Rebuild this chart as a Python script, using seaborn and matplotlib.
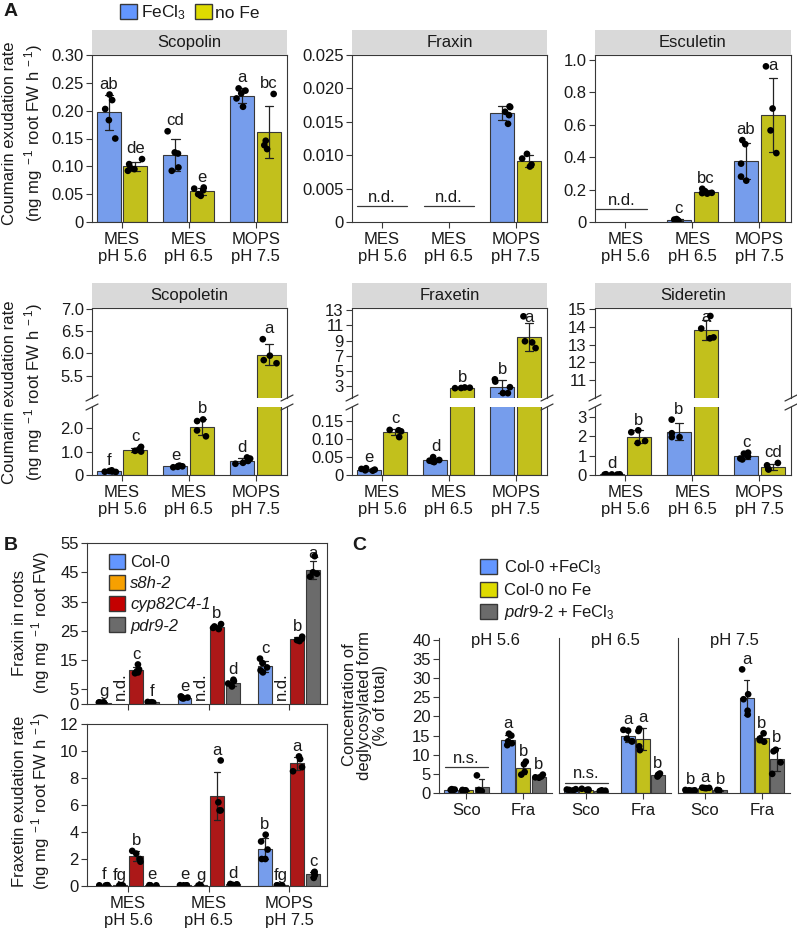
import numpy as np
import pandas as pd
import matplotlib
matplotlib.use("Agg")
import matplotlib.pyplot as plt
from matplotlib.patches import Patch
from matplotlib.lines import Line2D
import seaborn as sns

# ---------------- data ----------------
buffers = ["MES\npH 5.6", "MES\npH 6.5", "MOPS\npH 7.5"]
fe_levels = ["FeCl3", "no Fe"]

# panel A: replicate points per buffer
scopolin_fe = [[0.229, 0.219, 0.203, 0.183, 0.150], [0.163, 0.125, 0.123, 0.092, 0.098], [0.240, 0.236, 0.231, 0.222, 0.207]]
scopolin_nofe = [[0.113, 0.104, 0.097, 0.092, 0.095], [0.062, 0.060, 0.057, 0.050, 0.047], [0.230, 0.146, 0.138, 0.131]]
scopolin_letters = [["ab", "cd", "a"], ["de", "e", "bc"]]

fraxin_fe = [[], [], [0.0173, 0.0172, 0.0165, 0.0160, 0.0147]]
fraxin_nofe = [[], [], [0.0102, 0.0095, 0.0086, 0.0083]]
fraxin_letters = [["", "", ""], ["", "", ""]]

esculetin_fe = [[], [0.018, 0.015, 0.012, 0.008, 0.006], [0.505, 0.48, 0.36, 0.28, 0.255]]
esculetin_nofe = [[], [0.205, 0.19, 0.18, 0.175, 0.178], [0.96, 0.70, 0.565, 0.425]]
esculetin_letters = [["", "c", "ab"], ["", "bc", "a"]]

scopoletin_fe = [[0.20, 0.17, 0.15, 0.14, 0.13], [0.40, 0.38, 0.37, 0.35, 0.33], [0.75, 0.70, 0.60, 0.52, 0.48]]
scopoletin_nofe = [[1.20, 1.10, 1.03, 1.00], [2.37, 2.30, 1.90, 1.65], [6.32, 5.95, 5.85, 5.78]]
scopoletin_letters = [["f", "e", "d"], ["c", "b", "a"]]

fraxetin_fe = [[0.019, 0.017, 0.015, 0.013, 0.012], [0.050, 0.042, 0.040, 0.038, 0.036], [3.87, 3.57, 2.83, 2.05, 2.04]]
fraxetin_nofe = [[0.126, 0.125, 0.122, 0.106], [2.80, 2.76, 2.72, 2.70], [12.2, 8.9, 8.75, 8.0]]
fraxetin_letters = [["e", "d", "b"], ["c", "b", "a"]]

sideretin_fe = [[0.04, 0.035, 0.03, 0.025, 0.02], [2.85, 2.15, 1.95, 1.95], [1.15, 1.10, 0.95, 0.85, 0.80]]
sideretin_nofe = [[2.30, 2.20, 1.75, 1.65], [14.6, 13.9, 13.4, 13.35], [0.62, 0.50, 0.32, 0.28]]
sideretin_letters = [["d", "b", "c"], ["b", "a", "cd"]]

# panel B
genotypes = ["Col-0", "s8h-2", "cyp82C4-1", "pdr9-2"]
root_col = [[0.6, 0.5, 0.5, 0.4, 0.45], [2.6, 2.4, 2.2, 2.0, 1.9], [15.5, 14.0, 12.5, 11.5, 10.8]]
root_s8h = [[], [], []]
root_cyp = [[13.5, 11.8, 11.2, 10.8, 10.5], [27.3, 26.5, 26.0, 25.6], [23.0, 22.3, 21.8, 21.5]]
root_pdr = [[0.7, 0.6, 0.5, 0.5], [8.3, 7.8, 7.0, 6.0], [50.5, 45.0, 44.5, 43.5]]
root_letters = [["g", "e", "c"], ["", "", ""], ["c", "b", "b"], ["f", "d", "a"]]

exud_col = [[0.06, 0.05, 0.05, 0.04], [0.06, 0.05, 0.05, 0.04], [3.8, 3.3, 2.7, 2.0, 2.0]]
exud_s8h = [[0.05, 0.05, 0.04, 0.04], [0.05, 0.05, 0.04, 0.04], [0.05, 0.05, 0.04, 0.04]]
exud_cyp = [[2.6, 2.4, 2.0, 1.8], [9.3, 6.2, 5.6, 5.6], [9.6, 9.4, 8.8, 8.5]]
exud_pdr = [[0.06, 0.05, 0.05, 0.04], [0.15, 0.12, 0.10, 0.08], [1.05, 1.0, 0.8, 0.6]]
exud_letters = [["f", "e", "b"], ["fg", "g", "fg"], ["b", "a", "a"], ["e", "d", "c"]]

# panel C
compounds = ["Sco", "Fra"]
ph_titles = ["pH 5.6", "pH 6.5", "pH 7.5"]
lines_c = ["Col-0 +FeCl3", "Col-0 no Fe", "pdr9-2 + FeCl3"]
deg_col_fe = [[[1.0, 0.9, 0.8, 0.7, 0.8], [15.5, 15.0, 13.5, 13.0, 12.5]],
              [[1.0, 0.9, 0.8, 0.7], [16.5, 16.3, 14.2, 13.5, 13.5]],
              [[0.8, 0.7, 0.7, 0.6, 0.6], [32.3, 25.8, 24.5, 21.5, 20.5]]]
deg_col_nofe = [[[0.8, 0.7, 0.7, 0.6], [8.2, 7.5, 5.5, 4.8]],
                [[1.1, 0.9, 0.8, 0.7], [16.8, 16.2, 12.2, 11.2]],
                [[1.4, 1.35, 1.3, 1.25], [15.6, 14.2, 13.8, 13.4]]]
deg_pdr_fe = [[[4.6, 0.8, 0.6, 0.5], [4.8, 4.3, 4.1, 4.0]],
              [[0.7, 0.6, 0.5, 0.5], [5.1, 4.8, 4.6, 4.3]],
              [[0.8, 0.7, 0.7, 0.6], [11.3, 10.9, 8.0, 5.0]]]
deg_letters = [[["", "a"], ["", "b"], ["", "b"]],
               [["", "a"], ["", "a"], ["", "b"]],
               [["b", "a"], ["a", "b"], ["b", "b"]]]

# ---------------- style ----------------
BLUE, YELLOW, ORANGE, RED, GRAY = "#6396FF", "#DEDB00", "#F7A000", "#C40000", "#6B6B6B"
EDGE = "#383838"
TXT = "#1a1a1a"
FS = 12

sns.set_style("ticks")
plt.rcParams["font.family"] = ["Liberation Sans", "DejaVu Sans"]
plt.rcParams["mathtext.fontset"] = "custom"
plt.rcParams["mathtext.rm"] = "Liberation Sans"
plt.rcParams["mathtext.it"] = "Liberation Sans:italic"
plt.rcParams["mathtext.bf"] = "Liberation Sans:bold"
plt.rcParams["axes.edgecolor"] = EDGE
plt.rcParams["axes.linewidth"] = 0.8
plt.rcParams["text.color"] = TXT

W, H = 797, 933
fig = plt.figure(figsize=(W / 100, H / 100), dpi=100)
np.random.seed(3)


def rect(x0, y0, x1, y1):
    return [x0 / W, 1 - y1 / H, (x1 - x0) / W, (y1 - y0) / H]


def long_df(groups, hues, series):
    rows = []
    for h, per_group in zip(hues, series):
        for g, pts in zip(groups, per_group):
            for v in pts:
                rows.append((g, h, v))
    return pd.DataFrame(rows, columns=["group", "hue", "value"])


def draw_bars(ax, df, groups, hues, colors, gap, capsize):
    sns.barplot(data=df, x="group", y="value", hue="hue", order=groups, hue_order=hues,
                palette=colors, errorbar="sd", capsize=capsize, gap=gap, width=0.8,
                edgecolor=EDGE, linewidth=0.8, err_kws={"color": "#222222", "linewidth": 0.9},
                legend=False, ax=ax)
    sns.stripplot(data=df, x="group", y="value", hue="hue", order=groups, hue_order=hues,
                  palette={h: "black" for h in hues}, dodge=True, jitter=0.25, size=4.8,
                  legend=False, zorder=4, ax=ax)
    ax.set_xlabel("")
    ax.set_ylabel("")


def style_ax(ax, yticks, ylabels, ylim, xlim):
    ax.set_ylim(*ylim)
    ax.set_xlim(*xlim)
    ax.set_yticks(yticks)
    ax.set_yticklabels(ylabels)
    ax.tick_params(axis="both", length=4, width=0.8, color=EDGE, labelsize=FS, pad=2, labelcolor=TXT)
    ax.tick_params(axis="x", pad=3)


def add_letters(axs, df, groups, hues, letters, clamp=True):
    stats = df.groupby(["group", "hue"])["value"].agg(["mean", "std", "max"])
    n = len(hues)
    for hi, h in enumerate(hues):
        for gi, g in enumerate(groups):
            lab = letters[hi][gi]
            if not lab:
                continue
            m, s, mx = stats.loc[(g, h)]
            top = max(m + (0 if np.isnan(s) else s), mx)
            x = gi - 0.4 + 0.8 / n * (hi + 0.5)
            ax = axs[0]
            if len(axs) > 1 and top > axs[0].get_ylim()[1]:
                ax = axs[1]
            off = 2.0
            if clamp and ax is axs[-1]:
                ytop = ax.transAxes.transform((0, 1))[1]
                ybar = ax.transData.transform((x, top))[1]
                room = (ytop - ybar) * 72 / fig.dpi
                if off + 1.05 * FS > room:
                    off = room - 1.05 * FS
            ax.annotate(lab, (x, top), xytext=(0, off), textcoords="offset points",
                        ha="center", va="bottom", fontsize=FS, annotation_clip=False)


def strip(ax, title):
    p = ax.get_position()
    s = fig.add_axes([p.x0, p.y1, p.width, 25 / H])
    s.set_facecolor("#D9D9D9")
    s.set_xticks([])
    s.set_yticks([])
    for sp in s.spines.values():
        sp.set_visible(False)
    s.text(0.5, 0.5, title, ha="center", va="center", fontsize=FS, transform=s.transAxes)


def break_marks(ax_up, ax_lo):
    pu = ax_up.get_position()
    pl = ax_lo.get_position()
    for x in (pu.x0, pu.x1):
        for y in (pu.y0, pl.y1):
            fig.add_artist(Line2D([x - 6 / W, x + 6 / W], [y - 3 / H, y + 3 / H],
                                  transform=fig.transFigure, color=EDGE, lw=0.9))


def nd_line(ax, x, y, txt, half=0.37):
    ax.plot([x - half, x + half], [y, y], color=EDGE, lw=0.9)
    ax.annotate(txt, (x, y), xytext=(0, 1), textcoords="offset points",
                ha="center", va="bottom", fontsize=FS)


# ---------------- panel A top row ----------------
xlim_a = (-0.45, 2.47)
a_top = [
    ("Scopolin", 92, 287, scopolin_fe, scopolin_nofe, scopolin_letters, (0, 0.30),
     [0, 0.05, 0.10, 0.15, 0.20, 0.25, 0.30], ["0", "0.05", "0.10", "0.15", "0.20", "0.25", "0.30"]),
    ("Fraxin", 352, 547, fraxin_fe, fraxin_nofe, fraxin_letters, (0, 0.025),
     [0, 0.005, 0.010, 0.015, 0.020, 0.025], ["0", "0.005", "0.010", "0.015", "0.020", "0.025"]),
    ("Esculetin", 595, 791, esculetin_fe, esculetin_nofe, esculetin_letters, (0, 1.03),
     [0, 0.2, 0.4, 0.6, 0.8, 1.0], ["0", "0.2", "0.4", "0.6", "0.8", "1.0"]),
]
top_axes = {}
for name, x0, x1, fe, nofe, lets, ylim, yt, yl in a_top:
    ax = fig.add_axes(rect(x0, 55, x1, 222))
    df = long_df(buffers, fe_levels, [fe, nofe])
    draw_bars(ax, df, buffers, fe_levels, [BLUE, YELLOW], gap=0.1, capsize=0.25)
    style_ax(ax, yt, yl, ylim, xlim_a)
    add_letters([ax], df, buffers, fe_levels, lets)
    strip(ax, name)
    top_axes[name] = ax

nd_line(top_axes["Fraxin"], 0, 0.0024, "n.d.")
nd_line(top_axes["Fraxin"], 1, 0.0024, "n.d.")
nd_line(top_axes["Esculetin"], -0.05, 0.08, "n.d.", half=0.38)

# ---------------- panel A bottom row (broken axes) ----------------
a_bot = [
    ("Scopoletin", 92, 287, scopoletin_fe, scopoletin_nofe, scopoletin_letters,
     (0, 2.9), [0, 1.0, 2.0], ["0", "1.0", "2.0"],
     (5.0, 7.02), [5.5, 6.0, 6.5, 7.0], ["5.5", "6.0", "6.5", "7.0"]),
    ("Fraxetin", 352, 547, fraxetin_fe, fraxetin_nofe, fraxetin_letters,
     (0, 0.19), [0, 0.05, 0.10, 0.15], ["0", "0.05", "0.10", "0.15"],
     (1.4, 13.3), [3, 5, 7, 9, 11, 13], ["3", "5", "7", "9", "11", "13"]),
    ("Sideretin", 595, 791, sideretin_fe, sideretin_nofe, sideretin_letters,
     (0, 3.5), [0, 1, 2, 3], ["0", "1", "2", "3"],
     (10, 15.05), [11, 12, 13, 14, 15], ["11", "12", "13", "14", "15"]),
]
for name, x0, x1, fe, nofe, lets, ylo, ytlo, yllo, yhi, ythi, ylhi in a_bot:
    ax_up = fig.add_axes(rect(x0, 308, x1, 398))
    ax_lo = fig.add_axes(rect(x0, 407, x1, 475))
    df = long_df(buffers, fe_levels, [fe, nofe])
    for ax in (ax_up, ax_lo):
        draw_bars(ax, df, buffers, fe_levels, [BLUE, YELLOW], gap=0.1, capsize=0.25)
    style_ax(ax_lo, ytlo, yllo, ylo, xlim_a)
    style_ax(ax_up, ythi, ylhi, yhi, xlim_a)
    ax_up.spines["bottom"].set_visible(False)
    ax_up.tick_params(axis="x", bottom=False, labelbottom=False)
    ax_lo.spines["top"].set_visible(False)
    add_letters([ax_lo, ax_up], df, buffers, fe_levels, lets)
    break_marks(ax_up, ax_lo)
    strip(ax_up, name)

# y labels panel A
ylab2 = "(ng mg$^{\\ -1}$ root FW h$^{\\ -1}$)"
for yc in (133, 392):
    fig.text(10 / W, 1 - yc / H, "Coumarin exudation rate", rotation=90, ha="center", va="center", fontsize=FS)
    fig.text(34 / W, 1 - yc / H, ylab2, rotation=90, ha="center", va="center", fontsize=FS)

fig.legend(handles=[Patch(facecolor=BLUE, edgecolor=EDGE, label="FeCl$_3$"),
                    Patch(facecolor=YELLOW, edgecolor=EDGE, label="no Fe")],
           loc="center", bbox_to_anchor=(190 / W, 1 - 13 / H), ncol=2, frameon=False,
           handlelength=1.0, handleheight=0.9, columnspacing=0.5, handletextpad=0.2,
           fontsize=FS + 0.5, borderpad=0)

# ---------------- panel B ----------------
xlim_b = (-0.51, 2.47)
gcolors = [BLUE, ORANGE, RED, GRAY]
ax_b1 = fig.add_axes(rect(87, 543, 327, 704))
df_b1 = long_df(buffers, genotypes, [root_col, root_s8h, root_cyp, root_pdr])
draw_bars(ax_b1, df_b1, buffers, genotypes, gcolors, gap=0.15, capsize=0.3)
style_ax(ax_b1, [0, 5, 15, 25, 35, 45, 55], ["0", "5", "15", "25", "35", "45", "55"], (0, 55), xlim_b)
ax_b1.tick_params(axis="x", labelbottom=False)
add_letters([ax_b1], df_b1, buffers, genotypes, root_letters)
for gi in range(3):
    ax_b1.text(gi - 0.1, 1.2, "n.d.", rotation=90, ha="center", va="bottom", fontsize=FS)
leg = ax_b1.legend(handles=[Patch(facecolor=c, edgecolor=EDGE, label=g) for c, g in zip(gcolors, genotypes)],
                   loc="upper left", bbox_to_anchor=(0.045, 1.0), frameon=False, fontsize=FS,
                   handlelength=1.0, handleheight=1.0, handletextpad=0.3, labelspacing=0.3,
                   borderpad=0.15)
for t in leg.get_texts()[1:]:
    t.set_style("italic")

ax_b2 = fig.add_axes(rect(87, 724, 327, 886))
df_b2 = long_df(buffers, genotypes, [exud_col, exud_s8h, exud_cyp, exud_pdr])
draw_bars(ax_b2, df_b2, buffers, genotypes, gcolors, gap=0.15, capsize=0.3)
style_ax(ax_b2, [0, 2, 4, 6, 8, 10, 12], ["0", "2", "4", "6", "8", "10", "12"], (0, 12), xlim_b)
add_letters([ax_b2], df_b2, buffers, genotypes, exud_letters)

fig.text(20 / W, 1 - 623 / H, "Fraxin in roots", rotation=90, ha="center", va="center", fontsize=FS)
fig.text(41 / W, 1 - 623 / H, "(ng mg$^{\\ -1}$ root FW)", rotation=90, ha="center", va="center", fontsize=FS)
fig.text(20 / W, 1 - 801 / H, "Fraxetin exudation rate", rotation=90, ha="center", va="center", fontsize=FS)
fig.text(41 / W, 1 - 801 / H, ylab2, rotation=90, ha="center", va="center", fontsize=FS)

# ---------------- panel C ----------------
ccolors = [BLUE, YELLOW, GRAY]
c_x = [(439, 552), (559, 671), (678, 790)]
for pi, (x0, x1) in enumerate(c_x):
    ax = fig.add_axes(rect(x0, 638, x1, 793))
    series = [[deg_col_fe[pi][k] for k in range(2)],
              [deg_col_nofe[pi][k] for k in range(2)],
              [deg_pdr_fe[pi][k] for k in range(2)]]
    df = long_df(compounds, lines_c, series)
    draw_bars(ax, df, compounds, lines_c, ccolors, gap=0.08, capsize=0.3)
    style_ax(ax, [0, 5, 10, 15, 20, 25, 30, 35, 40],
             ["0", "5", "10", "15", "20", "25", "30", "35", "40"], (0, 40.5), (-0.48, 1.5))
    sns.despine(ax=ax)
    if pi > 0:
        ax.tick_params(axis="y", left=False, labelleft=False)
    lets = [[deg_letters[pi][k][0], deg_letters[pi][k][1]] for k in range(3)]
    add_letters([ax], df, compounds, lines_c, lets, clamp=False)
    ax.text(0.5, 0.985, ph_titles[pi], transform=ax.transAxes, ha="center", va="center", fontsize=FS)
    if pi == 0:
        nd_line(ax, 0, 6.8, "n.s.", half=0.38)
    if pi == 1:
        nd_line(ax, 0, 2.7, "n.s.", half=0.38)

fig.text(349 / W, 1 - 705 / H, "Concentration of", rotation=90, ha="center", va="center", fontsize=FS)
fig.text(365 / W, 1 - 705 / H, "deglycosylated form", rotation=90, ha="center", va="center", fontsize=FS)
fig.text(381 / W, 1 - 705 / H, "(% of total)", rotation=90, ha="center", va="center", fontsize=FS)

fig.legend(handles=[Patch(facecolor=BLUE, edgecolor=EDGE, label="Col-0 +FeCl$_3$"),
                    Patch(facecolor=YELLOW, edgecolor=EDGE, label="Col-0 no Fe"),
                    Patch(facecolor=GRAY, edgecolor=EDGE, label="$\\mathit{pdr9}$-2 + FeCl$_3$")],
           loc="upper left", bbox_to_anchor=(472 / W, 1 - 550 / H), frameon=False, fontsize=FS,
           handlelength=1.0, handleheight=1.0, handletextpad=0.45, labelspacing=0.3, borderpad=0)

# panel letters
fig.text(4 / W, 1 - 12 / H, "A", fontsize=14, fontweight="bold", va="center")
fig.text(4 / W, 1 - 545 / H, "B", fontsize=14, fontweight="bold", va="center")
fig.text(352 / W, 1 - 545 / H, "C", fontsize=14, fontweight="bold", va="center")

fig.savefig("out.png", dpi=100)
